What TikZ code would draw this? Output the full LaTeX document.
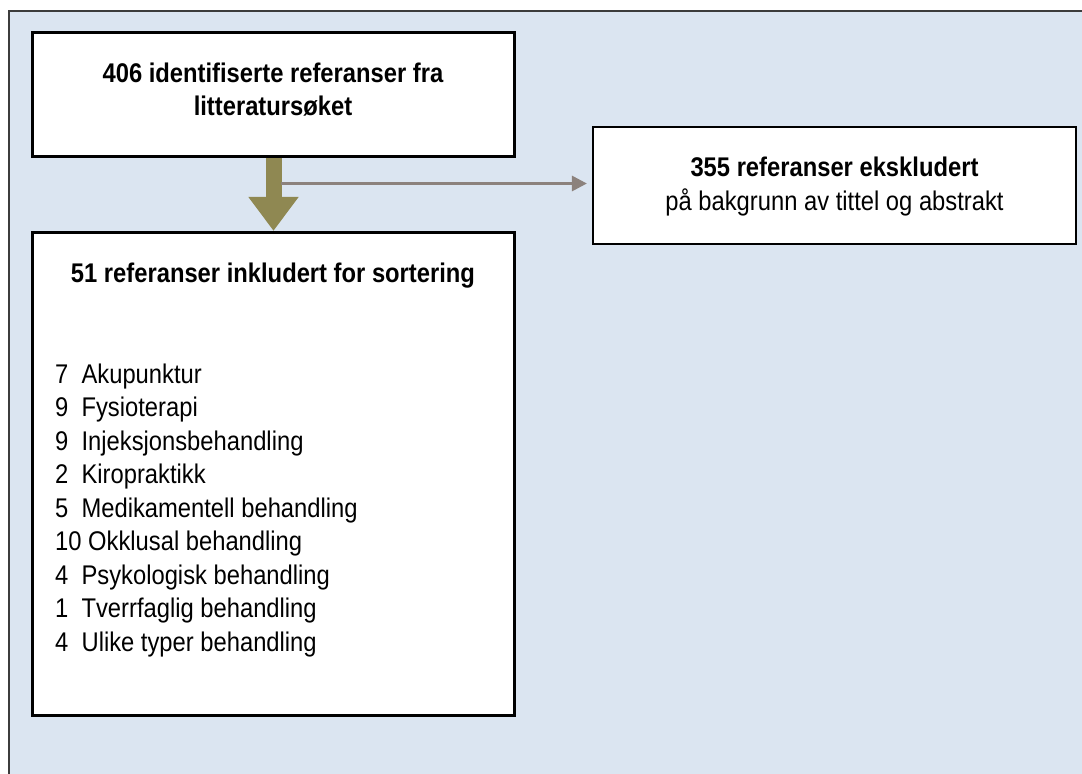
\documentclass[tikz,border=0pt]{standalone}
\usepackage{fontspec}
\setmainfont[FakeStretch=0.88]{Liberation Sans}
\usetikzlibrary{arrows.meta}
\definecolor{bgblue}{RGB}{219,229,241}
\definecolor{olivearrow}{RGB}{143,136,82}
\definecolor{grayarrow}{RGB}{140,130,125}
\definecolor{framegray}{RGB}{60,60,60}
\begin{document}
\begin{tikzpicture}[x=1pt,y=-1pt,
  box/.style={draw=black, line width=2.2pt, fill=white, inner sep=0pt},
  txt/.style={inner sep=0pt, anchor=base, font=\fontsize{27pt}{33.5pt}\selectfont},
  btxt/.style={txt, font=\fontsize{27pt}{33.5pt}\selectfont\bfseries},
  bigarrow/.style={olivearrow, line width=16pt, -{Triangle[width=48pt,length=34pt]}},
  thinarrow/.style={grayarrow, line width=3pt, -{Triangle[width=15pt,length=15pt]}}]
\useasboundingbox (0,0) rectangle (1082,774);
\clip (0,0) rectangle (1082,774);
\fill[white] (0,0) rectangle (1082,774);
\draw[framegray, line width=1.5pt, fill=bgblue] (9,11) rectangle (1100,800);

% boxes (positions)
\node[box, minimum width=481pt, minimum height=123pt] (top) at (273.5,94.5) {};
\node[box, minimum width=481pt, minimum height=482pt] (inc) at (273.5,474) {};
\node[box, minimum width=483pt, minimum height=117pt] (excl) at (834.5,185.5) {};

% connectors
\draw[bigarrow] ([yshift=-1pt]top.south) -- ([yshift=1pt]inc.north);
\coordinate (split) at (281,183.5);
\draw[thinarrow, shorten >=5pt] (split) -- (split -| excl.west);

% redraw box borders on top
\draw[line width=2.2pt] (top.south west) rectangle (top.north east);
\draw[line width=2.2pt] (inc.south west) rectangle (inc.north east);

% texts
\node[btxt] (t1) at (273,82) {406 identifiserte referanser fra};
\node[btxt] (t2) at (273,115) {litteratursøket};
\node[btxt] (inctitle) at (273,282) {51 referanser inkludert for sortering};
\node[btxt] (ex1) at (834.5,176) {355 referanser ekskludert};
\node[txt] (ex2) at (834.5,210) {på bakgrunn av tittel og abstrakt};

\foreach \t [count=\i from 0] in {7\ \ Akupunktur, 9\ \ Fysioterapi, 9\ \ Injeksjonsbehandling, 2\ \ Kiropraktikk, 5\ \ Medikamentell behandling, 10 Okklusal behandling, 4\ \ Psykologisk behandling, 1\ \ Tverrfaglig behandling, 4\ \ Ulike typer behandling}
  \node[txt, anchor=base west] (item\i) at (55,{383+33.5*\i}) {\t};
\end{tikzpicture}
\end{document}
